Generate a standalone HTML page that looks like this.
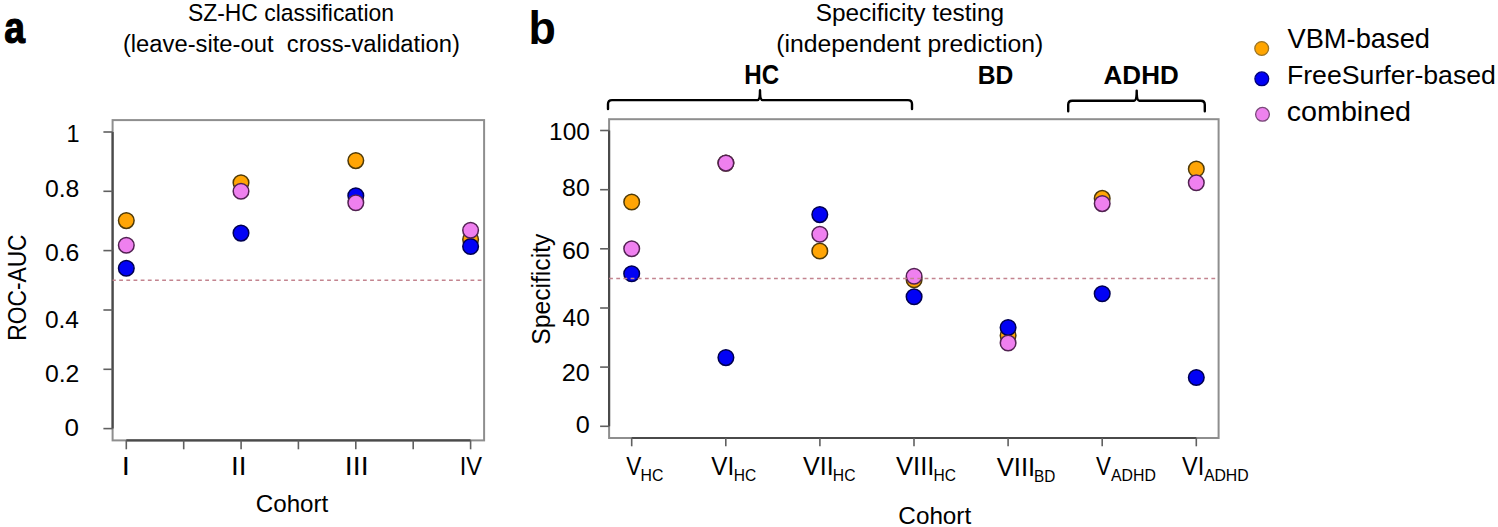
<!DOCTYPE html>
<html><head><meta charset="utf-8"><title>Figure</title>
<style>
html,body{margin:0;padding:0;background:#fff;}
body{width:1498px;height:527px;overflow:hidden;}
svg{display:block;}
text{font-family:"Liberation Sans", sans-serif;}
</style></head>
<body>
<svg width="1498" height="527" viewBox="0 0 1498 527">
<rect width="1498" height="527" fill="#fff"/>
<rect x="112.6" y="120.1" width="371.5" height="320.3" fill="none" stroke="#8e8e8e" stroke-width="2"/>
<line x1="112.6" y1="132.0" x2="112.6" y2="428.6" stroke="#4a4a4a" stroke-width="2.2"/>
<line x1="103.4" y1="428.6" x2="112.6" y2="428.6" stroke="#606060" stroke-width="1.6"/>
<line x1="103.4" y1="369.3" x2="112.6" y2="369.3" stroke="#606060" stroke-width="1.6"/>
<line x1="103.4" y1="310.0" x2="112.6" y2="310.0" stroke="#606060" stroke-width="1.6"/>
<line x1="103.4" y1="250.6" x2="112.6" y2="250.6" stroke="#606060" stroke-width="1.6"/>
<line x1="103.4" y1="191.3" x2="112.6" y2="191.3" stroke="#606060" stroke-width="1.6"/>
<line x1="103.4" y1="132.0" x2="112.6" y2="132.0" stroke="#606060" stroke-width="1.6"/>
<line x1="126.3" y1="440.4" x2="470.55" y2="440.4" stroke="#4a4a4a" stroke-width="2.2"/>
<line x1="126.3" y1="440.4" x2="126.3" y2="449.3" stroke="#606060" stroke-width="1.6"/>
<line x1="183.7" y1="440.4" x2="183.7" y2="449.3" stroke="#606060" stroke-width="1.6"/>
<line x1="241.1" y1="440.4" x2="241.1" y2="449.3" stroke="#606060" stroke-width="1.6"/>
<line x1="298.4" y1="440.4" x2="298.4" y2="449.3" stroke="#606060" stroke-width="1.6"/>
<line x1="355.8" y1="440.4" x2="355.8" y2="449.3" stroke="#606060" stroke-width="1.6"/>
<line x1="413.2" y1="440.4" x2="413.2" y2="449.3" stroke="#606060" stroke-width="1.6"/>
<line x1="470.6" y1="440.4" x2="470.6" y2="449.3" stroke="#606060" stroke-width="1.6"/>
<rect x="609.1" y="119.2" width="609.5" height="318.8" fill="none" stroke="#8e8e8e" stroke-width="2"/>
<line x1="609.1" y1="130.5" x2="609.1" y2="426.3" stroke="#4a4a4a" stroke-width="2.2"/>
<line x1="600.1" y1="426.3" x2="609.1" y2="426.3" stroke="#606060" stroke-width="1.6"/>
<line x1="600.1" y1="367.1" x2="609.1" y2="367.1" stroke="#606060" stroke-width="1.6"/>
<line x1="600.1" y1="308.0" x2="609.1" y2="308.0" stroke="#606060" stroke-width="1.6"/>
<line x1="600.1" y1="248.8" x2="609.1" y2="248.8" stroke="#606060" stroke-width="1.6"/>
<line x1="600.1" y1="189.7" x2="609.1" y2="189.7" stroke="#606060" stroke-width="1.6"/>
<line x1="600.1" y1="130.5" x2="609.1" y2="130.5" stroke="#606060" stroke-width="1.6"/>
<line x1="631.7" y1="438.0" x2="1196.3" y2="438.0" stroke="#4a4a4a" stroke-width="2.2"/>
<line x1="631.7" y1="438.0" x2="631.7" y2="446.3" stroke="#606060" stroke-width="1.6"/>
<line x1="725.8" y1="438.0" x2="725.8" y2="446.3" stroke="#606060" stroke-width="1.6"/>
<line x1="819.9" y1="438.0" x2="819.9" y2="446.3" stroke="#606060" stroke-width="1.6"/>
<line x1="914.0" y1="438.0" x2="914.0" y2="446.3" stroke="#606060" stroke-width="1.6"/>
<line x1="1008.1" y1="438.0" x2="1008.1" y2="446.3" stroke="#606060" stroke-width="1.6"/>
<line x1="1102.2" y1="438.0" x2="1102.2" y2="446.3" stroke="#606060" stroke-width="1.6"/>
<line x1="1196.3" y1="438.0" x2="1196.3" y2="446.3" stroke="#606060" stroke-width="1.6"/>
<circle cx="126.3" cy="220.6" r="7.8" fill="#ffa505" stroke="#4f3a08" stroke-width="1.5"/>
<circle cx="241.0" cy="182.7" r="7.8" fill="#ffa505" stroke="#4f3a08" stroke-width="1.5"/>
<circle cx="355.8" cy="160.6" r="7.8" fill="#ffa505" stroke="#4f3a08" stroke-width="1.5"/>
<circle cx="470.6" cy="239.5" r="7.8" fill="#ffa505" stroke="#4f3a08" stroke-width="1.5"/>
<circle cx="631.7" cy="202.0" r="7.8" fill="#ffa505" stroke="#4f3a08" stroke-width="1.5"/>
<circle cx="725.9" cy="163.1" r="7.8" fill="#ffa505" stroke="#4f3a08" stroke-width="1.5"/>
<circle cx="819.8" cy="251.0" r="7.8" fill="#ffa505" stroke="#4f3a08" stroke-width="1.5"/>
<circle cx="914.1" cy="279.7" r="7.8" fill="#ffa505" stroke="#4f3a08" stroke-width="1.5"/>
<circle cx="1008.1" cy="335.5" r="7.8" fill="#ffa505" stroke="#4f3a08" stroke-width="1.5"/>
<circle cx="1102.2" cy="198.4" r="7.8" fill="#ffa505" stroke="#4f3a08" stroke-width="1.5"/>
<circle cx="1196.3" cy="169.0" r="7.8" fill="#ffa505" stroke="#4f3a08" stroke-width="1.5"/>
<circle cx="126.3" cy="268.2" r="7.8" fill="#0202f5" stroke="#000050" stroke-width="1.5"/>
<circle cx="241.0" cy="233.1" r="7.8" fill="#0202f5" stroke="#000050" stroke-width="1.5"/>
<circle cx="355.8" cy="195.8" r="7.8" fill="#0202f5" stroke="#000050" stroke-width="1.5"/>
<circle cx="470.6" cy="246.5" r="7.8" fill="#0202f5" stroke="#000050" stroke-width="1.5"/>
<circle cx="631.7" cy="273.8" r="7.8" fill="#0202f5" stroke="#000050" stroke-width="1.5"/>
<circle cx="725.9" cy="357.6" r="7.8" fill="#0202f5" stroke="#000050" stroke-width="1.5"/>
<circle cx="819.8" cy="214.6" r="7.8" fill="#0202f5" stroke="#000050" stroke-width="1.5"/>
<circle cx="914.1" cy="296.7" r="7.8" fill="#0202f5" stroke="#000050" stroke-width="1.5"/>
<circle cx="1008.1" cy="327.5" r="7.8" fill="#0202f5" stroke="#000050" stroke-width="1.5"/>
<circle cx="1102.2" cy="293.8" r="7.8" fill="#0202f5" stroke="#000050" stroke-width="1.5"/>
<circle cx="1196.3" cy="377.5" r="7.8" fill="#0202f5" stroke="#000050" stroke-width="1.5"/>
<circle cx="126.3" cy="245.2" r="7.8" fill="#ef80ef" stroke="#522252" stroke-width="1.5"/>
<circle cx="241.0" cy="191.3" r="7.8" fill="#ef80ef" stroke="#522252" stroke-width="1.5"/>
<circle cx="355.8" cy="202.8" r="7.8" fill="#ef80ef" stroke="#522252" stroke-width="1.5"/>
<circle cx="470.6" cy="230.3" r="7.8" fill="#ef80ef" stroke="#522252" stroke-width="1.5"/>
<circle cx="631.7" cy="248.7" r="7.8" fill="#ef80ef" stroke="#522252" stroke-width="1.5"/>
<circle cx="725.9" cy="163.1" r="7.8" fill="#ef80ef" stroke="#522252" stroke-width="1.5"/>
<circle cx="819.8" cy="234.3" r="7.8" fill="#ef80ef" stroke="#522252" stroke-width="1.5"/>
<circle cx="914.1" cy="276.3" r="7.8" fill="#ef80ef" stroke="#522252" stroke-width="1.5"/>
<circle cx="1008.1" cy="343.0" r="7.8" fill="#ef80ef" stroke="#522252" stroke-width="1.5"/>
<circle cx="1102.2" cy="203.6" r="7.8" fill="#ef80ef" stroke="#522252" stroke-width="1.5"/>
<circle cx="1196.3" cy="182.8" r="7.8" fill="#ef80ef" stroke="#522252" stroke-width="1.5"/>
<line x1="112.6" y1="280.3" x2="483.1" y2="280.3" stroke="#c3848f" stroke-width="1.5" stroke-dasharray="3.8 3.37" stroke-dashoffset="0.6"/>
<line x1="609.1" y1="278.4" x2="1217.6" y2="278.4" stroke="#c3848f" stroke-width="1.5" stroke-dasharray="3.8 3.37"/>
<path d="M608.0,109.0 L608.0,104.1 Q608.0,100.1 612.0,100.1 L757.5,100.1 Q760.0,100.1 760.0,90.3 Q760.0,100.1 762.5,100.1 L908.0,100.1 Q912.0,100.1 912.0,104.1 L912.0,109.0" fill="none" stroke="#000" stroke-width="2.4" stroke-linecap="round" stroke-linejoin="round"/>
<path d="M1068.2,111.3 L1068.2,104.8 Q1068.2,100.8 1072.2,100.8 L1134.2,100.8 Q1136.7,100.8 1136.7,90.6 Q1136.7,100.8 1139.2,100.8 L1200.8,100.8 Q1204.8,100.8 1204.8,104.8 L1204.8,111.3" fill="none" stroke="#000" stroke-width="2.4" stroke-linecap="round" stroke-linejoin="round"/>
<circle cx="1261.7" cy="48.5" r="6.9" fill="#ffa500" stroke="#9a7428" stroke-width="1.3"/>
<circle cx="1261.8" cy="78.8" r="6.9" fill="#0000f5" stroke="#00007a" stroke-width="1.3"/>
<circle cx="1262.5" cy="114.3" r="6.9" fill="#ee82ee" stroke="#7a4a7a" stroke-width="1.3"/>
<text transform="translate(4.22,43.20) scale(0.8290,1)" font-size="45.00" font-weight="bold" fill="#000" stroke="#000" stroke-width="1.2">a</text>
<text transform="translate(528.60,43.60) scale(0.9634,1)" font-size="46.50" font-weight="bold" fill="#000">b</text>
<text transform="translate(187.88,21.10) scale(0.9642,1)" font-size="23.77" font-weight="normal" fill="#000">SZ-HC classification</text>
<text transform="translate(122.88,52.30) scale(1.0009,1)" font-size="23.77" font-weight="normal" fill="#000">(leave-site-out  cross-validation)</text>
<text transform="translate(815.64,21.10) scale(1.0262,1)" font-size="23.77" font-weight="normal" fill="#000">Specificity testing</text>
<text transform="translate(776.14,52.20) scale(1.0421,1)" font-size="23.77" font-weight="normal" fill="#000">(independent prediction)</text>
<text transform="translate(744.29,83.60) scale(0.8956,1)" font-size="26.96" font-weight="bold" fill="#000">HC</text>
<text transform="translate(977.76,83.60) scale(0.9242,1)" font-size="26.67" font-weight="bold" fill="#000">BD</text>
<text transform="translate(1103.59,83.60) scale(0.9750,1)" font-size="26.67" font-weight="bold" fill="#000">ADHD</text>
<text transform="translate(1287.50,48.30) scale(1.0013,1)" font-size="27.25" font-weight="normal" fill="#000">VBM-based</text>
<text transform="translate(1286.91,84.40) scale(1.0120,1)" font-size="26.38" font-weight="normal" fill="#000">FreeSurfer-based</text>
<text transform="translate(1286.70,121.30) scale(1.0531,1)" font-size="27.25" font-weight="normal" fill="#000">combined</text>
<text transform="translate(66.59,141.60) scale(1.0000,1)" font-size="23.48" font-weight="normal" fill="#000">1</text>
<text transform="translate(44.92,196.90) scale(1.0372,1)" font-size="23.91" font-weight="normal" fill="#000">0.8</text>
<text transform="translate(44.92,260.90) scale(1.0564,1)" font-size="23.48" font-weight="normal" fill="#000">0.6</text>
<text transform="translate(44.93,327.70) scale(1.0441,1)" font-size="23.48" font-weight="normal" fill="#000">0.4</text>
<text transform="translate(44.92,381.90) scale(1.0436,1)" font-size="23.77" font-weight="normal" fill="#000">0.2</text>
<text transform="translate(64.59,435.80) scale(1.0939,1)" font-size="23.77" font-weight="normal" fill="#000">0</text>
<text transform="translate(549.07,140.20) scale(1.0529,1)" font-size="23.19" font-weight="normal" fill="#000">100</text>
<text transform="translate(562.12,195.80) scale(1.0413,1)" font-size="23.91" font-weight="normal" fill="#000">80</text>
<text transform="translate(561.92,258.70) scale(1.0426,1)" font-size="24.06" font-weight="normal" fill="#000">60</text>
<text transform="translate(562.62,326.10) scale(1.0608,1)" font-size="23.04" font-weight="normal" fill="#000">40</text>
<text transform="translate(561.82,380.80) scale(1.0404,1)" font-size="24.20" font-weight="normal" fill="#000">20</text>
<text transform="translate(575.81,433.30) scale(1.0733,1)" font-size="23.48" font-weight="normal" fill="#000">0</text>
<text transform="translate(121.71,474.60) scale(1.1536,1)" font-size="25.36" font-weight="normal" fill="#000">I</text>
<text transform="translate(231.02,474.60) scale(1.0997,1)" font-size="25.36" font-weight="normal" fill="#000">II</text>
<text transform="translate(344.87,474.60) scale(1.1265,1)" font-size="25.36" font-weight="normal" fill="#000">III</text>
<text transform="translate(459.75,474.60) scale(0.9319,1)" font-size="25.36" font-weight="normal" fill="#000">IV</text>
<text transform="translate(626.20,474.60) scale(0.8971,1)" font-size="25.22" font-weight="normal" fill="#000">V</text>
<text transform="translate(711.30,474.60) scale(0.9606,1)" font-size="25.22" font-weight="normal" fill="#000">VI</text>
<text transform="translate(803.00,474.70) scale(0.9946,1)" font-size="25.22" font-weight="normal" fill="#000">VII</text>
<text transform="translate(896.00,474.70) scale(1.0152,1)" font-size="25.22" font-weight="normal" fill="#000">VIII</text>
<text transform="translate(996.80,475.60) scale(1.0152,1)" font-size="25.22" font-weight="normal" fill="#000">VIII</text>
<text transform="translate(1096.00,474.70) scale(0.8853,1)" font-size="25.22" font-weight="normal" fill="#000">V</text>
<text transform="translate(1182.10,474.70) scale(0.9328,1)" font-size="25.22" font-weight="normal" fill="#000">VI</text>
<text transform="translate(640.56,480.60) scale(0.9940,1)" font-size="15.94" font-weight="normal" fill="#000">HC</text>
<text transform="translate(733.79,480.70) scale(0.9752,1)" font-size="15.94" font-weight="normal" fill="#000">HC</text>
<text transform="translate(832.87,480.80) scale(0.9846,1)" font-size="15.94" font-weight="normal" fill="#000">HC</text>
<text transform="translate(933.49,481.00) scale(0.9752,1)" font-size="15.94" font-weight="normal" fill="#000">HC</text>
<text transform="translate(1034.10,482.00) scale(0.9632,1)" font-size="15.94" font-weight="normal" fill="#000">BD</text>
<text transform="translate(1111.00,481.00) scale(0.9951,1)" font-size="15.94" font-weight="normal" fill="#000">ADHD</text>
<text transform="translate(1203.90,481.00) scale(0.9929,1)" font-size="15.94" font-weight="normal" fill="#000">ADHD</text>
<text transform="translate(255.77,512.40) scale(1.0047,1)" font-size="24.06" font-weight="normal" fill="#000">Cohort</text>
<text transform="translate(898.36,523.70) scale(1.0089,1)" font-size="24.06" font-weight="normal" fill="#000">Cohort</text>
<text transform="translate(26.00,338.90) rotate(-90) scale(0.9031,1)" x="-1.97" y="0" font-size="25.22">ROC-AUC</text>
<text transform="translate(549.50,343.90) rotate(-90) scale(0.9511,1)" x="-0.81" y="0" font-size="25.94">Specificity</text>
</svg>
</body></html>
